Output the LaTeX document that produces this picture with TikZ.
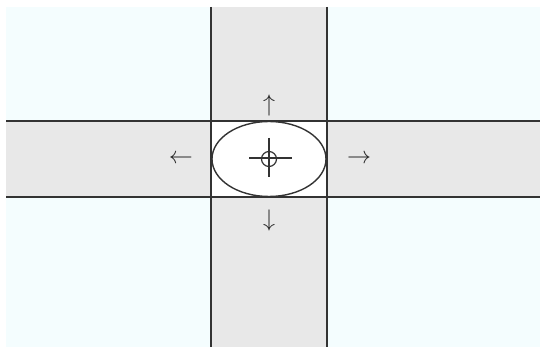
\documentclass[tikz,border=0pt]{standalone}
\usepackage{amsmath}
\usepackage{tikz}
\usetikzlibrary{shapes.geometric,positioning}
\definecolor{tiltbg}{HTML}{F4FDFE}
\definecolor{tiltband}{HTML}{E8E8E8}
\definecolor{tiltline}{HTML}{333333}
\tikzset{
  band/.style={fill=tiltband, draw=none},
  edgeline/.style={draw=tiltline, line width=0.7pt},
  hub/.style={ellipse, draw=tiltline, line width=0.7pt, fill=white,
    minimum width=57pt, minimum height=37.5pt, inner sep=0pt},
  pivot/.style={circle, draw=tiltline, line width=0.6pt, minimum size=7.5pt, inner sep=0pt},
  hair/.style={draw=tiltline, line width=0.6pt},
  dirarrow/.style={font=\large, text=black!85, inner sep=0pt}
}

\begin{document}
\begin{tikzpicture}[x=0.5pt,y=-0.5pt]
    % canvas
    \fill[white] (0,0) rectangle (540,347);
    \fill[tiltbg] (6,7) rectangle (540,347);
    \useasboundingbox (0,0) rectangle (540,347);

    % cross of bands
    \fill[band] (211,7) rectangle (327,347);
    \fill[band] (6,121) rectangle (540,197);
    \fill[white] (211,121) rectangle (327,197);
    \draw[edgeline] (211,7) -- (211,347);
    \draw[edgeline] (327,7) -- (327,347);
    \draw[edgeline] (6,121) -- (540,121);
    \draw[edgeline] (6,197) -- (540,197);

    % centre piece
    \node[hub] (lens) at (269,159) {};
    \node[pivot] (mark) at (lens.center) {};
    \coordinate (hl) at (249,158);
    \coordinate (hr) at (292,158);
    \coordinate (vt) at (269,138);
    \coordinate (vb) at (269,177);
    \draw[hair] (hl) -- (hr);
    \draw[hair] (vt) -- (vb);

    % directions
    \node[dirarrow, above=2pt of lens] (up) {$\uparrow$};
    \node[dirarrow, below=6pt of lens] (down) {$\downarrow$};
    \node[dirarrow, left=9pt of lens] (left) {$\leftarrow$};
    \node[dirarrow, right=10pt of lens] (right) {$\rightarrow$};
\end{tikzpicture}
\end{document}
